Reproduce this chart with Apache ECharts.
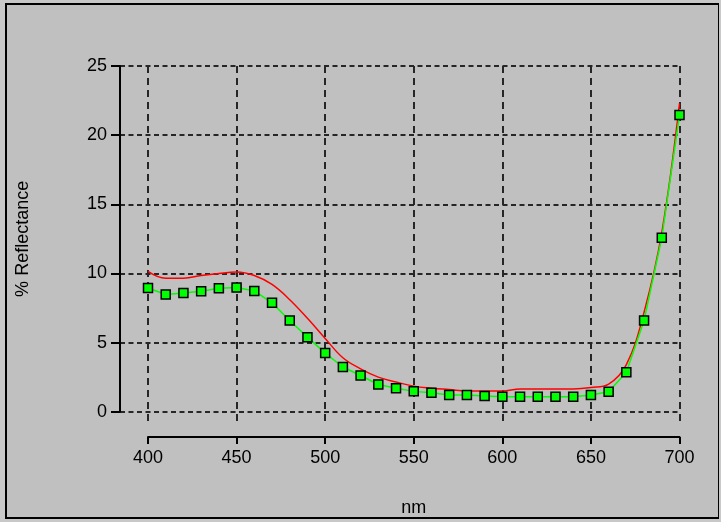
<!DOCTYPE html>
<html>
<head>
<meta charset="utf-8">
<script src="https://cdn.jsdelivr.net/npm/echarts@6/dist/echarts.min.js"></script>
<style>
  html, body { margin: 0; padding: 0; background: #c8c8c8; }
  #frame {
    position: absolute; left: 5px; top: 3px; width: 714px; height: 516px;
    box-sizing: border-box; background: #c0c0c0;
    border-left: 2px solid #000; border-top: 2px solid #000;
    border-right: 1px solid #000; border-bottom: 2px solid #000;
  }
  #chart { position: absolute; left: 0; top: 0; width: 721px; height: 522px; }
</style>
</head>
<body>
<div id="frame"></div>
<div id="chart"></div>
<script>
// Wavelengths (nm) sampled every 10 nm
const wavelengths = [400, 410, 420, 430, 440, 450, 460, 470, 480, 490, 500,
  510, 520, 530, 540, 550, 560, 570, 580, 590, 600,
  610, 620, 630, 640, 650, 660, 670, 680, 690, 700];

// Measured sample (green squares)
const sampleReflectance = [8.95, 8.47, 8.59, 8.71, 8.93, 8.98, 8.73, 7.87, 6.6, 5.39, 4.24,
  3.23, 2.62, 1.97, 1.7, 1.47, 1.37, 1.2, 1.2, 1.14, 1.08,
  1.08, 1.08, 1.08, 1.08, 1.2, 1.45, 2.86, 6.6, 12.58, 21.45];

// Standard curve (red line)
const standardReflectance = [10.15, 9.65, 9.65, 9.85, 10.0, 10.1, 9.85, 9.2, 8.1, 6.75, 5.3,
  3.9, 3.1, 2.5, 2.15, 1.85, 1.7, 1.6, 1.5, 1.5, 1.5,
  1.65, 1.65, 1.65, 1.65, 1.75, 2.0, 3.4, 7.2, 12.95, 22.3];

// Axis ticks
const xTicks = { min: 400, max: 700, interval: 50 };
const yTicks = { min: 0, max: 25, interval: 5 };

const font = 'Liberation Sans, Arial, sans-serif';
const gridLine = (dash) => ({ show: true, lineStyle: { color: '#262626', width: 2, type: dash } });

const chart = echarts.init(document.getElementById('chart'), null, { renderer: 'canvas' });

chart.setOption({
  backgroundColor: 'transparent',
  animation: false,
  grid: [
    { left: 148, right: 41.5, top: 66, bottom: 110.3 },   // data
    { left: 148, right: 41.5, top: 66, bottom: 97 },      // vertical grid + x axis
    { left: 120, right: 41.5, top: 66, bottom: 110.3 }    // horizontal grid + y axis
  ],
  xAxis: [
    { gridIndex: 0, type: 'value', min: xTicks.min, max: xTicks.max, interval: xTicks.interval, show: false },
    {
      gridIndex: 1, type: 'value', min: xTicks.min, max: xTicks.max, interval: xTicks.interval,
      position: 'bottom', offset: 13,
      axisLine: { show: true, onZero: false, lineStyle: { color: '#000', width: 2 } },
      axisTick: { show: true, length: 7, lineStyle: { color: '#000', width: 2 } },
      axisLabel: { color: '#000', fontSize: 18, fontFamily: font, margin: 12 },
      splitLine: gridLine([7, 5]),
      name: 'nm', nameLocation: 'middle', nameGap: 62,
      nameTextStyle: { color: '#000', fontSize: 18, fontFamily: font }
    },
    { gridIndex: 2, type: 'value', min: 0, max: 1, show: false }
  ],
  yAxis: [
    { gridIndex: 0, type: 'value', min: yTicks.min, max: yTicks.max, interval: yTicks.interval, show: false },
    { gridIndex: 1, type: 'value', min: 0, max: 1, show: false },
    {
      gridIndex: 2, type: 'value', min: yTicks.min, max: yTicks.max, interval: yTicks.interval,
      position: 'left',
      axisLine: { show: true, lineStyle: { color: '#000', width: 2 } },
      axisTick: { show: true, length: 9, lineStyle: { color: '#000', width: 2 } },
      axisLabel: { color: '#000', fontSize: 18, fontFamily: font, margin: 13 },
      splitLine: gridLine([5, 3.5]),
      name: '% Reflectance', nameLocation: 'middle', nameGap: 88, nameRotate: 90,
      nameTextStyle: { color: '#000', fontSize: 18, fontFamily: font }
    }
  ],
  series: [
    {
      name: 'Standard', type: 'line', xAxisIndex: 0, yAxisIndex: 0,
      data: wavelengths.map((w, i) => [w, standardReflectance[i]]),
      smooth: 0.4, showSymbol: false, symbol: 'none',
      lineStyle: { color: '#ff0000', width: 1.5 }, z: 3
    },
    {
      name: 'Sample', type: 'line', xAxisIndex: 0, yAxisIndex: 0,
      data: wavelengths.map((w, i) => [w, sampleReflectance[i]]),
      smooth: false, symbol: 'rect', symbolSize: 9, showAllSymbol: true,
      lineStyle: { color: '#00ff00', width: 1.5 },
      itemStyle: { color: '#00ff00', borderColor: '#000', borderWidth: 1.5 }, z: 4
    }
  ]
});
</script>
</body>
</html>
